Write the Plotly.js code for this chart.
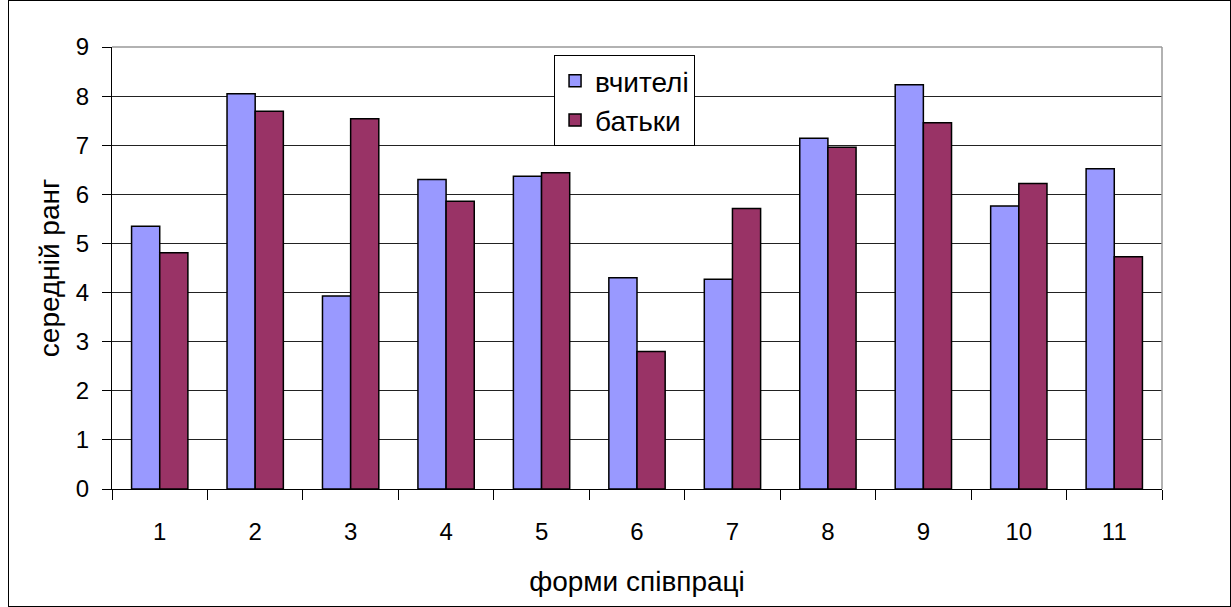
<!DOCTYPE html>
<html>
<head>
<meta charset="utf-8">
<script src="https://cdn.plot.ly/plotly-3.0.1.min.js"></script>
<style>
html,body{margin:0;padding:0;background:#fff;}
#wrap{position:relative;width:1231px;height:607px;}
#chart{position:absolute;left:0;top:0;width:1231px;height:607px;}
#frame{position:absolute;left:8px;top:0;width:1223px;height:607px;border:1px solid #000;box-sizing:border-box;pointer-events:none;}
</style>
</head>
<body>
<div id="wrap"><div id="chart"></div><div id="frame"></div></div>
<script>
const categories = ['1','2','3','4','5','6','7','8','9','10','11'];
const teachers = [5.35, 8.05, 3.93, 6.30, 6.37, 4.30, 4.27, 7.14, 8.23, 5.76, 6.52];
const parents  = [4.81, 7.69, 7.54, 5.86, 6.44, 2.80, 5.71, 6.96, 7.46, 6.22, 4.73];
const seriesNames = ['вчителі', 'батьки'];
const yTitle = 'середній ранг';
const xTitle = 'форми співпраці';

const font = 'Arial, "Liberation Sans", sans-serif';

const data = [
  {type:'bar', name:seriesNames[0], x:categories, y:teachers,
   marker:{color:'#9999FF', line:{color:'#000', width:1.5}}},
  {type:'bar', name:seriesNames[1], x:categories, y:parents,
   marker:{color:'#993366', line:{color:'#000', width:1.5}}}
];

const layout = {
  width:1231, height:607,
  margin:{l:112, r:69, t:47, b:118, pad:0},
  paper_bgcolor:'rgba(0,0,0,0)', plot_bgcolor:'#fff',
  font:{family:font, color:'#000', size:24},
  barmode:'group', bargap:0.41, bargroupgap:0,
  showlegend:true,
  legend:{x:0.421, y:0.982, xanchor:'left', yanchor:'top',
    bgcolor:'#fff', bordercolor:'#000', borderwidth:1,
    font:{family:font, size:28, color:'#000'}, tracegroupgap:0, itemwidth:30},
  xaxis:{type:'category', tickson:'boundaries', ticks:'outside', ticklen:10, tickcolor:'#000', tickwidth:1,
    showline:true, linecolor:'#000', linewidth:1, showgrid:false, zeroline:false,
    tickfont:{size:24}, ticklabelstandoff:21,
    title:{text:xTitle, font:{size:28}, standoff:27}, automargin:false},
  yaxis:{range:[0,9], dtick:1, tick0:0, ticks:'outside', ticklen:9, tickcolor:'#000', tickwidth:1,
    showline:true, linecolor:'#000', linewidth:1, showgrid:true, gridcolor:'#222', gridwidth:1,
    zeroline:false, tickfont:{size:24}, ticklabelstandoff:8,
    title:{text:yTitle, font:{size:28}, standoff:8}, automargin:false},
  shapes:[
    {type:'line', xref:'paper', yref:'paper', x0:0, x1:1, y0:1, y1:1, line:{color:'#999', width:1.5}, layer:'above'},
    {type:'line', xref:'paper', yref:'paper', x0:1, x1:1, y0:0, y1:1, line:{color:'#999', width:1.5}, layer:'above'}
  ]
};

Plotly.newPlot('chart', data, layout, {displayModeBar:false, staticPlot:true});
</script>
</body>
</html>
